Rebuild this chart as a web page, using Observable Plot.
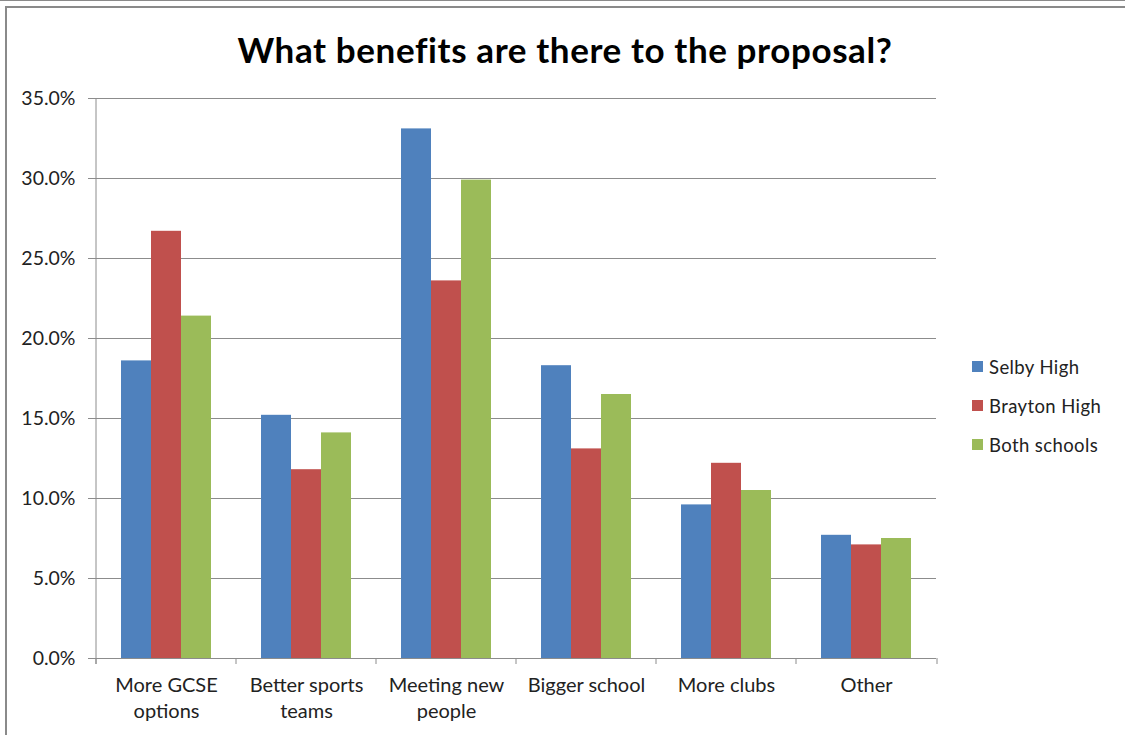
<!DOCTYPE html>
<html>
<head>
<meta charset="utf-8">
<script src="https://cdn.jsdelivr.net/npm/d3@7"></script>
<script src="https://cdn.jsdelivr.net/npm/@observablehq/plot@0.6"></script>
<style>
  html, body { margin: 0; padding: 0; background: #fff; width: 1125px; height: 735px; overflow: hidden; }
  body { font-family: Lato, "Open Sans", sans-serif; position: relative; }
  #topline { position: absolute; left: 0; top: 0; width: 1125px; height: 1px; background: #8a8a8a; }
  #frame { position: absolute; left: 5px; top: 6px; width: 1130px; height: 740px; border-left: 2px solid #8a8a8a; border-top: 2px solid #8a8a8a; box-sizing: border-box; }
  #title { position: absolute; left: 5px; width: 1120px; top: 27px; text-align: center; font-weight: bold; font-size: 35px; letter-spacing: 0.6px; color: #000; line-height: 44px; }
  #chart { position: absolute; left: 0; top: 80px; }
  #legend { position: absolute; left: 972px; top: 347px; font-size: 18.5px; letter-spacing: 0.4px; color: #222; }
  #legend .row { display: flex; align-items: center; height: 39px; }
  #legend .sw { width: 11px; height: 11px; margin-right: 6px; }
</style>
</head>
<body>
<div id="topline"></div>
<div id="frame"></div>
<div id="title">What benefits are there to the proposal?</div>
<div id="chart"></div>
<div id="legend"></div>
<script>
const categories = ["More GCSE options", "Better sports teams", "Meeting new people", "Bigger school", "More clubs", "Other"];
const categoryLabels = ["More GCSE\noptions", "Better sports\nteams", "Meeting new\npeople", "Bigger school", "More clubs", "Other"];
const seriesNames = ["Selby High", "Brayton High", "Both schools"];
const seriesColors = ["#4F81BD", "#C0504D", "#9BBB59"];
const selbyHigh = [18.6, 15.2, 33.1, 18.3, 9.6, 7.7];
const braytonHigh = [26.7, 11.8, 23.6, 13.1, 12.2, 7.1];
const bothSchools = [21.4, 14.1, 29.9, 16.5, 10.5, 7.5];
const yTicks = [0, 5, 10, 15, 20, 25, 30, 35];

const seriesValues = [selbyHigh, braytonHigh, bothSchools];
const data = [];
categories.forEach((c, i) => {
  seriesNames.forEach((s, j) => data.push({category: c, series: s, value: seriesValues[j][i]}));
});
const labelOf = new Map(categories.map((c, i) => [c, categoryLabels[i]]));

const W = 1125, H = 655;
const chart = Plot.plot({
  width: W,
  height: H,
  marginTop: 18,
  marginBottom: 77,
  marginLeft: 95,
  marginRight: 188,
  style: {fontFamily: "Lato, 'Open Sans', sans-serif", fontSize: "20px", color: "#222", background: "transparent"},
  fx: {domain: categories, padding: 0, axis: null},
  x: {domain: seriesNames, paddingInner: 0, paddingOuter: 0.76, axis: null},
  y: {domain: [0, 35], axis: null},
  color: {domain: seriesNames, range: seriesColors},
  marks: [
    Plot.gridY(yTicks, {stroke: "#8c8c8c", strokeOpacity: 1, strokeWidth: 1}),
    Plot.barY(data, {fx: "category", x: "series", y: "value", fill: "series"}),
    Plot.ruleY([0], {stroke: "#8c8c8c", strokeWidth: 1}),
    Plot.axisY(yTicks, {anchor: "left", label: null, tickSize: 8, tickPadding: 13, stroke: "#8c8c8c", tickFormat: d => d.toFixed(1) + "%", fontSize: 19.5}),
    Plot.axisFx({anchor: "bottom", label: null, tickSize: 0, tickPadding: 15, lineHeight: 1.3, fontSize: 20, tickFormat: d => labelOf.get(d)})
  ]
});
document.getElementById("chart").appendChild(chart);

// Excel-style axis line and category-boundary ticks, positioned from Plot's own scales
const fx = chart.scale("fx");
const y = chart.scale("y");
const svg = d3.select(chart);
const y0 = y.apply(0), yTop = y.apply(35);
const bounds = categories.map(c => fx.apply(c)).concat([fx.range[1]]);
const g = svg.append("g").attr("stroke", "#8c8c8c").attr("stroke-width", 1);
g.append("line").attr("x1", bounds[0]).attr("x2", bounds[0]).attr("y1", yTop).attr("y2", y0 + 6);
bounds.forEach(bx => g.append("line").attr("x1", bx).attr("x2", bx).attr("y1", y0).attr("y2", y0 + 6));

// legend from the color scale
const color = chart.scale("color");
const legend = d3.select("#legend");
color.domain.forEach((s, i) => {
  const row = legend.append("div").attr("class", "row");
  row.append("div").attr("class", "sw").style("background", color.range[i]);
  row.append("span").text(s);
});
</script>
</body>
</html>
